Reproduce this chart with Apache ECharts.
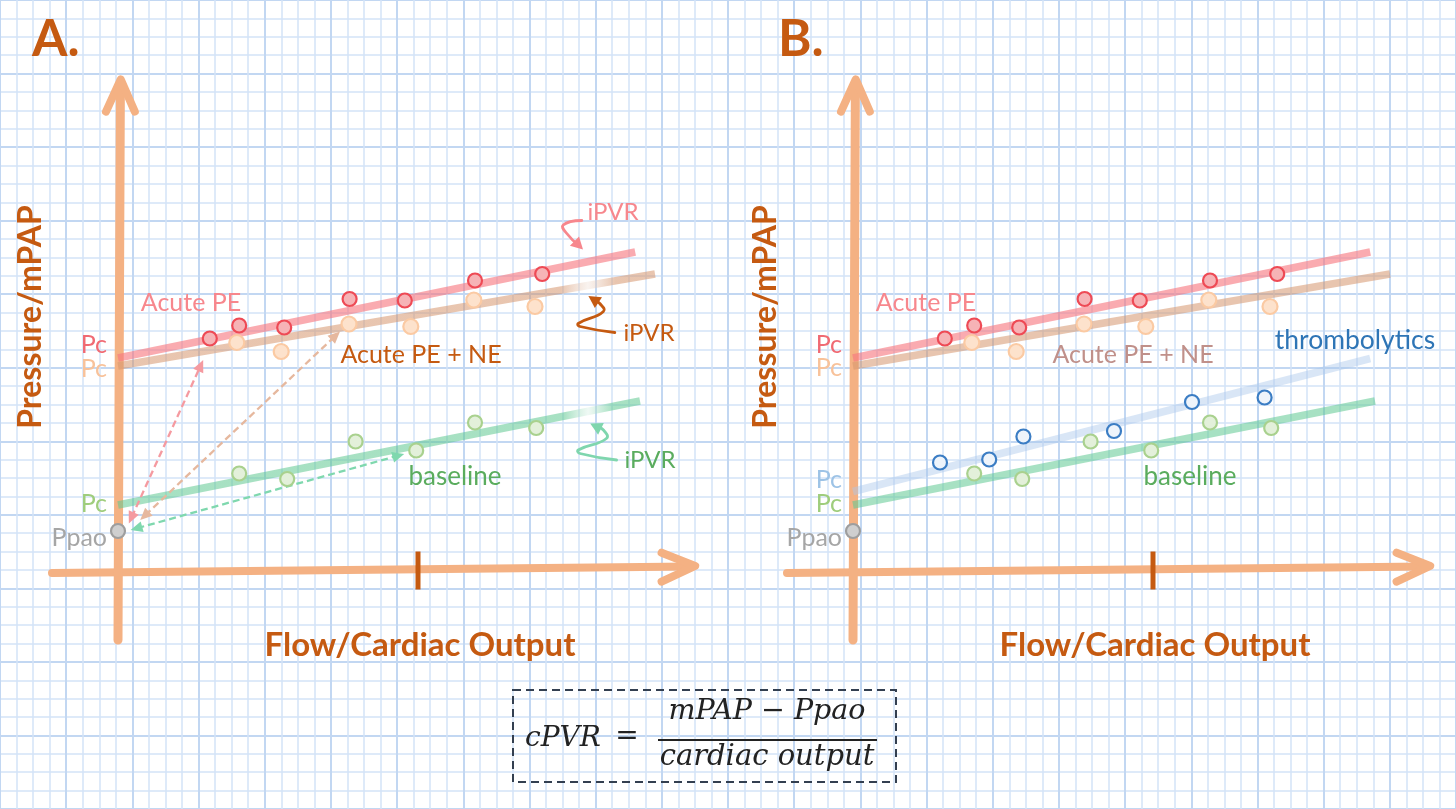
<!DOCTYPE html>
<html><head><meta charset="utf-8">
<script src="https://cdn.jsdelivr.net/npm/echarts@6/dist/echarts.min.js"></script>
<style>html,body{margin:0;padding:0;background:#fff}#c{width:1456px;height:809px}</style>
</head><body><div id="c"></div>
<script>
// ---------- data (x = flow units, y = pressure units) ----------
const acutePE_pts   = [[1.53,46.7],[2.02,49.3],[2.77,48.9],[3.86,54.6],[4.78,54.3],[5.95,58.3],[7.07,59.6]];
const acutePENE_pts = [[1.98,45.9],[2.72,44.1],[3.85,49.6],[4.88,49.1],[5.93,54.4],[6.95,53.1]];
const baseline_pts  = [[2.02,19.7],[2.82,18.6],[3.96,26.1],[4.97,24.3],[5.95,29.9],[6.97,28.8]];
const thrombo_pts   = [[1.45,21.9],[2.27,22.5],[2.84,27.1],[4.35,28.2],[5.65,34.0],[6.86,34.9]];
const acutePE_line   = [[0,42.8],[8.62,64.0]];
const acutePENE_line = [[0,41.2],[8.95,59.6]];
const baseline_line  = [[0,13.4],[8.70,34.2]];
const thrombo_line   = [[0,16.1],[8.62,42.7]];
const ppao_pt = [[0,8.2]];
const flowAxis = [[-1.1,-0.2],[9.55,1.1]];
const pressureAxis = [[0,-13.6],[0.04,97.8]];
const flowArrowHead = [[9.06,3.86],[9.62,1.2],[9.06,-1.94]];
const pressureArrowHead = [[-0.2,92.06],[0.045,98.54],[0.28,92.06]];
const flowTick = [[5.0,4.1],[5.0,-3.5]];
const dashPE   = [[0.18,9.7],[1.42,42.4]];
const dashNE   = [[0.37,10.4],[3.70,48.1]];
const dashBase = [[0.21,8.4],[4.77,23.6]];
const curlyPE   = [[7.73,70.3],[7.42,69.4],[7.48,67.7],[7.75,64.5]];
const curlyNE   = [[8.28,47.9],[7.70,49.1],[7.67,49.7],[8.09,52.1],[8.03,53.7],[7.84,55.2]];
const curlyBase = [[8.31,22.4],[7.70,23.7],[7.67,24.4],[8.14,26.7],[8.09,28.4],[7.87,29.7]];

// ---------- helpers ----------
const FONT = "Lato, 'Open Sans', sans-serif";
const ORANGE = '#f4b183', DARK = '#c55a11';

function arrowHead(tip, prev, len, half, color){
  const dx = tip[0]-prev[0], dy = tip[1]-prev[1]; const L = Math.hypot(dx,dy)||1;
  const ux = dx/L, uy = dy/L; const bx = tip[0]-ux*len, by = tip[1]-uy*len;
  return {type:'polygon', shape:{points:[[tip[0],tip[1]],[bx-uy*half,by+ux*half],[bx+uy*half,by-ux*half]]}, style:{fill:color}};
}
function lineS(gi, data, style, z){
  return {type:'line', xAxisIndex:gi, yAxisIndex:gi, data, symbol:'none', silent:true, z:z||2,
          lineStyle:Object.assign({cap:'round', join:'round'}, style), clip:false};
}
function scatterS(gi, data, size, border, fill, z){
  return {type:'scatter', xAxisIndex:gi, yAxisIndex:gi, data, symbol:'circle', symbolSize:size, silent:true, z:z||5,
          itemStyle:{color:fill, borderColor:border, borderWidth:2.2, opacity:1}};
}
function dashS(gi, path, color){
  return {type:'custom', coordinateSystem:'cartesian2d', xAxisIndex:gi, yAxisIndex:gi, data:[path[1]], z:3, silent:true, clip:false,
    renderItem:(p, api)=>{
      const a = api.coord(path[0]), b = api.coord(path[1]);
      const dx=b[0]-a[0], dy=b[1]-a[1], L=Math.hypot(dx,dy), ux=dx/L, uy=dy/L;
      return {type:'group', children:[
        {type:'line', shape:{x1:a[0]+ux*7,y1:a[1]+uy*7,x2:b[0]-ux*7,y2:b[1]-uy*7}, style:{stroke:color, lineWidth:2.3, lineDash:[7,4]}},
        arrowHead(a,b,12,5.5,color), arrowHead(b,a,12,5.5,color)]};
    }};
}
function curlyS(gi, path, color){
  return {type:'custom', coordinateSystem:'cartesian2d', xAxisIndex:gi, yAxisIndex:gi, data:[path[path.length-1]], z:3, silent:true, clip:false,
    renderItem:(p, api)=>{
      const pts = path.map(q=>api.coord(q)); const n = pts.length;
      const tip = pts[n-1], prev = pts[n-2];
      const dx=tip[0]-prev[0], dy=tip[1]-prev[1], L=Math.hypot(dx,dy);
      const end = [tip[0]-dx/L*6, tip[1]-dy/L*6];
      const body = pts.slice(0,n-1).concat([end]);
      return {type:'group', children:[
        {type:'polyline', shape:{points:body, smooth:0.5}, style:{stroke:color, lineWidth:2.8, fill:null, lineCap:'round'}},
        arrowHead(tip, prev, 12, 6.5, color)]};
    }};
}
function fadeGrad(base, light, a, b){
  return new echarts.graphic.LinearGradient(0,0,1,0,[
    {offset:0,color:base},{offset:a,color:base},{offset:(a+b)/2,color:light},{offset:b,color:base},{offset:1,color:base}]);
}

const RED_L = 'rgba(247,120,128,0.62)', TAN_L='rgba(214,150,110,0.55)', GRN_L='rgba(95,200,145,0.55)', BLU_L='rgba(170,200,235,0.45)';

function panel(gi, isB){
  const s = [];
  s.push(lineS(gi, flowAxis, {color:ORANGE, width:8}, 1));
  s.push(lineS(gi, pressureAxis, {color:ORANGE, width:9}, 1));
  s.push(lineS(gi, flowArrowHead, {color:ORANGE, width:8}, 1));
  s.push(lineS(gi, pressureArrowHead, {color:ORANGE, width:8}, 1));
  s.push(lineS(gi, flowTick, {color:DARK, width:5, cap:'butt'}, 2));
  s.push(lineS(gi, acutePE_line, {color:RED_L, width:7.5, cap:'butt'}, 2));
  s.push(lineS(gi, acutePENE_line, {color: isB ? TAN_L : fadeGrad(TAN_L,'rgba(240,225,215,0.4)',0.82,0.92), width:7.5, cap:'butt'}, 2));
  if (isB) s.push(lineS(gi, thrombo_line, {color:BLU_L, width:7.5, cap:'butt'}, 2));
  s.push(lineS(gi, baseline_line, {color: isB ? GRN_L : fadeGrad(GRN_L,'rgba(215,240,228,0.4)',0.85,0.94), width:7.5, cap:'butt'}, 2));
  if (!isB){
    s.push(dashS(gi, dashPE, '#f59aa0'));
    s.push(dashS(gi, dashNE, '#e6b89e'));
    s.push(dashS(gi, dashBase, '#7fd8ae'));
    s.push(curlyS(gi, curlyPE, '#f7878d'));
    s.push(curlyS(gi, curlyNE, DARK));
    s.push(curlyS(gi, curlyBase, '#7fd6ae'));
  }
  s.push(scatterS(gi, acutePENE_pts, 15, '#fbcaa3', '#fde2cc'));
  s.push(scatterS(gi, acutePE_pts, 14, '#ee4a55', '#f6b3b6'));
  s.push(scatterS(gi, baseline_pts, 14, '#a9d18e', '#e3f0da'));
  if (isB) s.push(scatterS(gi, thrombo_pts, 14, '#3b7dc4', '#eef4fb'));
  s.push(scatterS(gi, ppao_pt, 14, '#9e9e9e', '#cfcfcf', 6));
  return s;
}

function T(text, x, y, size, color, o){
  o = o || {};
  return {type:'text', x, y, rotation:o.rot||0, z:100, silent:true,
    style:{text, fill:color, font:(o.style||'normal')+' '+(o.weight||'normal')+' '+size+'px '+(o.family||FONT),
           textAlign:o.align||'center', textVerticalAlign:'middle', verticalAlign:'middle'}};
}
const MATH = "'DejaVu Serif', 'Liberation Serif', serif";
const graphics = [
  T('A.', 32, 40, 51, DARK, {weight:'bold', align:'left'}),
  T('B.', 778, 40, 51, DARK, {weight:'bold', align:'left'}),
  T('Pressure/mPAP', 31, 317, 32, DARK, {weight:'bold', rot:Math.PI/2}),
  T('Pressure/mPAP', 766, 317, 32, DARK, {weight:'bold', rot:Math.PI/2}),
  T('Flow/Cardiac Output', 420, 645, 33, DARK, {weight:'bold'}),
  T('Flow/Cardiac Output', 1155, 645, 33, DARK, {weight:'bold'}),
  T('Acute PE', 191, 303, 25, '#f7878d'),
  T('Acute PE + NE', 421, 355, 25, DARK),
  T('baseline', 455, 477, 26, '#5aac5e'),
  T('iPVR', 613, 212, 24, '#f7878d'),
  T('iPVR', 649, 333, 24, DARK),
  T('iPVR', 650, 460, 24, '#5aac5e'),
  T('Pc', 107, 345, 25, '#f06a73', {align:'right'}),
  T('Pc', 107, 369, 25, '#f8c29a', {align:'right'}),
  T('Pc', 107, 504, 25, '#9fcd7c', {align:'right'}),
  T('Ppao', 107, 538, 25, '#a6a6a6', {align:'right'}),
  T('Acute PE', 926, 303, 25, '#f7878d'),
  T('Acute PE + NE', 1133, 355, 25, '#c0908a'),
  T('thrombolytics', 1355, 340, 26.5, '#2e75b6'),
  T('baseline', 1190, 477, 26, '#5aac5e'),
  T('Pc', 842, 345, 25, '#f06a73', {align:'right'}),
  T('Pc', 842, 368, 25, '#f8c29a', {align:'right'}),
  T('Pc', 842, 480, 25, '#9dc3e6', {align:'right'}),
  T('Pc', 842, 504, 25, '#9fcd7c', {align:'right'}),
  T('Ppao', 842, 538, 25, '#a6a6a6', {align:'right'}),
  {type:'rect', z:100, silent:true, shape:{x:513, y:690, width:383, height:92},
   style:{fill:null, stroke:'#333f50', lineWidth:2, lineDash:[8,5]}},
  T('cPVR', 525, 739, 28, '#222', {style:'italic', family:MATH, align:'left'}),
  T('=', 627, 737, 28, '#222', {family:MATH}),
  T('mPAP − Ppao', 767, 712, 28.5, '#222', {style:'italic', family:MATH}),
  {type:'line', z:100, silent:true, shape:{x1:658, y1:740, x2:877, y2:740}, style:{stroke:'#222', lineWidth:2.2}},
  T('cardiac output', 767, 757, 29, '#222', {style:'italic', family:MATH})
];

const hidden = {show:false};
const valAxis = (gi, min, max)=>({type:'value', gridIndex:gi, min, max, show:false, splitLine:hidden});
const chart = echarts.init(document.getElementById('c'), null, {renderer:'canvas'});
chart.setOption({
  animation:false,
  backgroundColor:'#ffffff',
  textStyle:{fontFamily:FONT},
  grid:[
    {left:-37.4, top:-28.3, width:1520.2, height:861.3},
    {left:28, top:72, width:690, height:575},
    {left:763, top:72, width:690, height:575}
  ],
  xAxis:[
    {type:'value', gridIndex:0, min:0, max:88, interval:4, axisLine:hidden, axisTick:hidden, axisLabel:hidden,
     splitLine:{show:true, lineStyle:{color:'#c2d7f2', width:2}},
     minorTick:{show:false, splitNumber:4}, minorSplitLine:{show:true, lineStyle:{color:'#d4e3f7', width:1.5}}},
    valAxis(1,-1.5,10), valAxis(2,-1.5,10)
  ],
  yAxis:[
    {type:'value', gridIndex:0, min:0, max:44, interval:4, inverse:true, axisLine:hidden, axisTick:hidden, axisLabel:hidden,
     splitLine:{show:true, lineStyle:{color:'#c2d7f2', width:2}},
     minorTick:{show:false, splitNumber:4}, minorSplitLine:{show:true, lineStyle:{color:'#d4e3f7', width:1.5}}},
    valAxis(1,-15,100), valAxis(2,-15,100)
  ],
  series: panel(1,false).concat(panel(2,true)),
  graphic: graphics
});
</script>
</body></html>
